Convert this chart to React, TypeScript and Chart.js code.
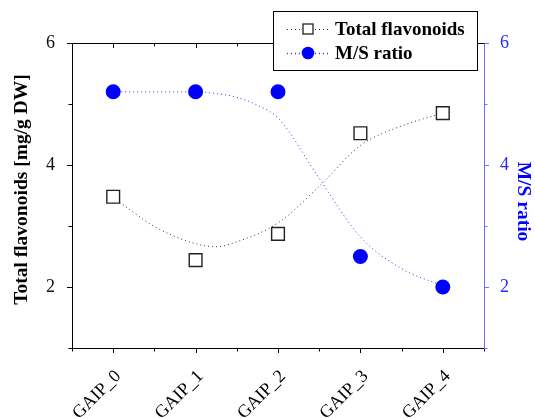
import { useEffect, useRef } from 'react';
import { Chart, registerables } from 'chart.js';

Chart.register(...registerables);

const categories = ['GAIP_0', 'GAIP_1', 'GAIP_2', 'GAIP_3', 'GAIP_4'];
const flavonoids = [3.48, 2.44, 2.87, 4.52, 4.85];
const msRatio = [5.2, 5.2, 5.2, 2.5, 2.0];

// fitted (smoothed) curves
const flavFitX = [0, 0.25, 0.5, 1, 1.25, 1.5, 2, 2.5, 3, 3.5, 4];
const flavFitY = [3.47, 3.22, 2.99, 2.71, 2.66, 2.74, 3.05, 3.65, 4.32, 4.64, 4.85];
const msFitX = [0, 1, 1.25, 1.5, 1.75, 2, 2.5, 3, 3.5, 4];
const msFitY = [5.2, 5.2, 5.17, 5.11, 4.98, 4.77, 3.78, 2.82, 2.3, 2.02];

const yTicks = [2, 4, 6];
const yMinorTicks = [1, 3, 5];

const leftTitle = 'Total flavonoids [mg/g DW]';
const rightTitle = 'M/S ratio';
const legendLabels = ['Total flavonoids', 'M/S ratio'];

const SERIF = 'Liberation Serif';
const BLUE = '#0000ff';
const AXIS_BLUE = '#7070ff';

const framePlugin = {
  id: 'frame',
  afterDraw(chart: any) {
    const { ctx, chartArea } = chart;
    const { left, right, top, bottom } = chartArea;
    const xs = chart.scales.x;
    const ys = chart.scales.y;
    const ys2 = chart.scales.y2;
    const seg = (x1: number, y1: number, x2: number, y2: number) => {
      ctx.beginPath();
      ctx.moveTo(x1, y1);
      ctx.lineTo(x2, y2);
      ctx.stroke();
    };
    ctx.save();
    ctx.lineWidth = 1;
    ctx.strokeStyle = '#000';
    // top frame line
    seg(left, Math.round(top) + 0.5, right, Math.round(top) + 0.5);
    // x ticks (bottom outward, top inward)
    for (let v = -0.5; v <= categories.length - 0.5 + 1e-9; v += 0.5) {
      const px = Math.round(xs.getPixelForValue(v)) + 0.5;
      const major = Math.abs(v - Math.round(v)) < 1e-9;
      const len = major ? 5 : 3.5;
      seg(px, bottom, px, bottom + len);
      if (v > -0.5 && v < categories.length - 0.5) seg(px, top, px, top + len);
    }
    // left y ticks
    [...yTicks, ...yMinorTicks].forEach((v) => {
      const py = Math.round(ys.getPixelForValue(v)) + 0.5;
      const len = yTicks.includes(v) ? 5 : 3.5;
      seg(left - len, py, left, py);
    });
    // right y ticks
    ctx.strokeStyle = AXIS_BLUE;
    [...yTicks, ...yMinorTicks].forEach((v) => {
      const py = Math.round(ys2.getPixelForValue(v)) + 0.5;
      const len = yTicks.includes(v) ? 5 : 3.5;
      seg(right, py, right + len, py);
    });

    // axis titles
    ctx.textAlign = 'center';
    ctx.textBaseline = 'middle';
    ctx.font = `bold 19.5px ${SERIF}`;
    ctx.fillStyle = '#000';
    ctx.save();
    ctx.translate(22, (top + bottom) / 2 - 6);
    ctx.rotate(-Math.PI / 2);
    ctx.fillText(leftTitle, 0, 0);
    ctx.restore();
    ctx.fillStyle = BLUE;
    ctx.save();
    ctx.translate(523, (top + bottom) / 2 + 6);
    ctx.rotate(Math.PI / 2);
    ctx.fillText(rightTitle, 0, 0);
    ctx.restore();

    // legend
    const lx = 273, ly = 11, lw = 204, lh = 59;
    ctx.fillStyle = '#fff';
    ctx.fillRect(lx, ly, lw, lh);
    ctx.strokeStyle = '#000';
    ctx.lineWidth = 1;
    ctx.strokeRect(lx + 0.5, ly + 0.5, lw, lh);
    const rows = [ly + 18, ly + 42];
    const colors = ['#333', '#3333ff'];
    rows.forEach((ry, i) => {
      ctx.save();
      ctx.strokeStyle = colors[i];
      ctx.setLineDash([1, 3]);
      seg(287, ry + 0.5, 329, ry + 0.5);
      ctx.restore();
      if (i === 0) {
        ctx.fillStyle = '#fff';
        ctx.fillRect(303, ry - 5, 10, 10);
        ctx.strokeStyle = '#222';
        ctx.lineWidth = 1.3;
        ctx.strokeRect(303, ry - 5, 10, 10);
      } else {
        ctx.fillStyle = BLUE;
        ctx.beginPath();
        ctx.arc(308, ry, 6.3, 0, Math.PI * 2);
        ctx.fill();
      }
      ctx.fillStyle = '#000';
      ctx.textAlign = 'left';
      ctx.font = `bold 19px ${SERIF}`;
      ctx.fillText(legendLabels[i], 335, ry + 1);
    });
    ctx.restore();
  },
};

export default function App() {
  const ref = useRef<HTMLCanvasElement>(null);
  useEffect(() => {
    if (!ref.current) return;
    const chart = new Chart(ref.current, {
      type: 'line',
      data: {
        datasets: [
          {
            type: 'scatter',
            label: 'Total flavonoids',
            data: categories.map((_, i) => ({ x: i, y: flavonoids[i] })),
            yAxisID: 'y',
            pointStyle: 'rect',
            pointRadius: 9,
            pointBackgroundColor: '#fff',
            pointBorderColor: '#222',
            pointBorderWidth: 1.4,
            showLine: false,
          } as any,
          {
            type: 'scatter',
            label: 'M/S ratio',
            data: categories.map((_, i) => ({ x: i, y: msRatio[i] })),
            yAxisID: 'y2',
            pointStyle: 'circle',
            pointRadius: 7.5,
            pointBackgroundColor: BLUE,
            pointBorderColor: BLUE,
            pointBorderWidth: 0,
            showLine: false,
          } as any,
          {
            type: 'line',
            label: 'fit flav',
            data: flavFitX.map((x, i) => ({ x, y: flavFitY[i] })),
            yAxisID: 'y',
            borderColor: '#333',
            borderWidth: 1,
            borderDash: [1, 3],
            pointRadius: 0,
            cubicInterpolationMode: 'monotone',
            fill: false,
          } as any,
          {
            type: 'line',
            label: 'fit ms',
            data: msFitX.map((x, i) => ({ x, y: msFitY[i] })),
            yAxisID: 'y2',
            borderColor: '#3333ff',
            borderWidth: 1,
            borderDash: [1, 3],
            pointRadius: 0,
            cubicInterpolationMode: 'monotone',
            fill: false,
          } as any,
        ],
      },
      options: {
        responsive: false,
        animation: false,
        devicePixelRatio: 1,
        layout: { padding: { top: 43, left: 0, right: 0, bottom: 0 } },
        plugins: { legend: { display: false }, tooltip: { enabled: false }, title: { display: false } },
        scales: {
          x: {
            type: 'linear',
            min: -0.5,
            max: categories.length - 0.5,
            grid: { display: false },
            border: { display: true, color: '#000', width: 1 },
            afterBuildTicks: (s: any) => {
              s.ticks = categories.map((_, i) => ({ value: i }));
            },
            afterFit: (s: any) => {
              s.height = 71;
            },
            ticks: {
              autoSkip: false,
              minRotation: 45,
              maxRotation: 45,
              padding: 10,
              labelOffset: 5,
              color: '#000',
              font: { family: SERIF, size: 18 },
              callback: (v: any) => categories[Math.round(Number(v))] ?? '',
            },
          },
          y: {
            type: 'linear',
            position: 'left',
            min: 1,
            max: 6,
            grid: { display: false },
            border: { display: true, color: '#000', width: 1 },
            afterBuildTicks: (s: any) => {
              s.ticks = yTicks.map((v) => ({ value: v }));
            },
            afterFit: (s: any) => {
              s.width = 72;
            },
            ticks: {
              padding: 9,
              color: '#111',
              font: { family: SERIF, size: 18 },
            },
          },
          y2: {
            type: 'linear',
            position: 'right',
            min: 1,
            max: 6,
            grid: { display: false },
            border: { display: true, color: AXIS_BLUE, width: 1 },
            afterBuildTicks: (s: any) => {
              s.ticks = yTicks.map((v) => ({ value: v }));
            },
            afterFit: (s: any) => {
              s.width = 51;
            },
            ticks: {
              padding: 8,
              color: '#2a2aff',
              font: { family: SERIF, size: 18 },
            },
          },
        },
      },
      plugins: [framePlugin],
    });
    return () => chart.destroy();
  }, []);

  return (
    <div style={{ position: 'absolute', left: 0, top: 0, width: 535, height: 419, background: '#fff' }}>
      <canvas ref={ref} width={535} height={419} style={{ width: 535, height: 419, display: 'block' }} />
    </div>
  );
}
